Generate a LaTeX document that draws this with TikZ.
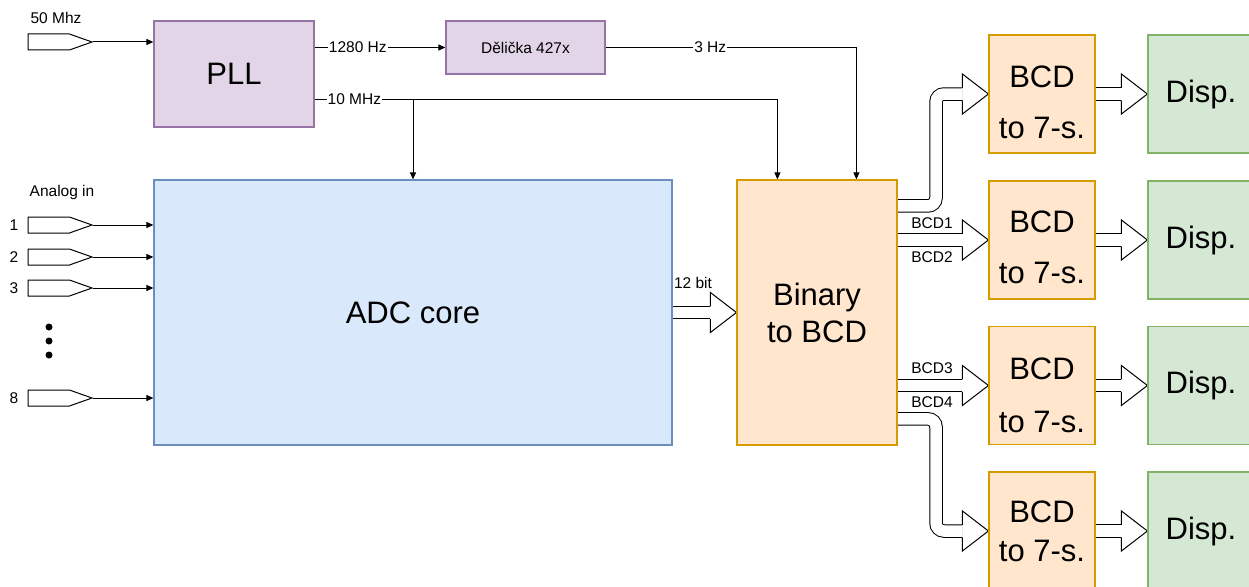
\documentclass[tikz,border=0pt]{standalone}
\usepackage{fontspec}
\setmainfont{Liberation Sans}
\usetikzlibrary{arrows.meta,shapes.symbols,calc,backgrounds}

\definecolor{pllfill}{HTML}{E1D5E7}
\definecolor{pllline}{HTML}{9673A6}
\definecolor{adcfill}{HTML}{DAE8FC}
\definecolor{adcline}{HTML}{6C8EBF}
\definecolor{orfill}{HTML}{FFE6CC}
\definecolor{orline}{HTML}{D79B00}
\definecolor{grfill}{HTML}{D5E8D4}
\definecolor{grline}{HTML}{82B366}

\tikzset{
  blk/.style={draw, line width=1.2pt, inner sep=0pt, align=center},
  purple blk/.style={blk, fill=pllfill, draw=pllline},
  blue blk/.style={blk, fill=adcfill, draw=adcline},
  orange blk/.style={blk, fill=orfill, draw=orline},
  green blk/.style={blk, fill=grfill, draw=grline},
  big/.style={font=\fontsize{31}{37}\selectfont},
  small/.style={font=\fontsize{15.5}{18}\selectfont},
  lbl/.style={small, inner sep=0pt},
  edgelbl/.style={small, fill=white, inner sep=1pt},
  sigin/.style={draw, line width=1pt, shape=signal, signal to=east,
    signal pointer angle=39, minimum width=64pt, minimum height=16pt,
    inner sep=0pt, fill=white, anchor=west},
  wire/.style={line width=1pt, -{Triangle[length=7pt,width=6pt]}},
  bus/.style={line width=1pt, double=white, double distance=11.5pt},
  bcdbox/.style={orange blk, minimum width=106pt, minimum height=118pt},
  dispbox/.style={green blk, big, minimum width=106pt, minimum height=118pt},
  bushead/.pic={
    \filldraw[fill=white, line width=1pt, line join=miter]
      (-26,-6.25) -- (-26,-20) -- (0,0) -- (-26,20) -- (-26,6.25);
  }
}

\begin{document}
\begin{tikzpicture}[x=1pt, y=-1pt]
  \useasboundingbox (0,0) rectangle (1249,586);

  % ---- blocks ----
  \node[purple blk, big, minimum width=160pt, minimum height=106pt] (pll) at (234,74) {PLL};
  \node[purple blk, small, minimum width=159pt, minimum height=53pt] (dl) at (525.5,47.5) {Dělička 427x};
  \node[blue blk, big, minimum width=518pt, minimum height=265pt] (adc) at (413,312.5) {ADC core};
  \node[orange blk, big, minimum width=160pt, minimum height=265pt] (bin) at (817,312.5) {Binary\\to BCD};

  \node[bcdbox, label={[big, align=center, font=\fontsize{31}{51}\selectfont, yshift=-8pt]center:{BCD\\to 7-s.}}] (b1) at (1042,94) {};
  \node[bcdbox, label={[big, align=center, font=\fontsize{31}{51}\selectfont, yshift=-7pt]center:{BCD\\to 7-s.}}] (b2) at (1042,240) {};
  \node[bcdbox, label={[big, align=center, font=\fontsize{31}{53}\selectfont, yshift=-10pt]center:{BCD\\to 7-s.}}] (b3) at (1042,385.5) {};
  \node[bcdbox, label={[big, align=center, font=\fontsize{31}{39}\selectfont]center:{BCD\\to 7-s.}}] (b4) at (1042,531) {};

  \node[dispbox] (d1) at (1201,94) {Disp.};
  \node[dispbox] (d2) at (1201,240) {Disp.};
  \node[dispbox] (d3) at (1201,385.5) {Disp.};
  \node[dispbox] (d4) at (1201,531) {Disp.};

  % ---- inputs ----
  \node[lbl] (l50) at (56,18) {50 Mhz};
  \node[sigin] (in0) at (27.5,42) {};
  \node[lbl] (lan) at (62,192) {Analog in};
  \node[sigin] (in1) at (27.5,225) {};
  \node[sigin] (in2) at (27.5,257) {};
  \node[sigin] (in3) at (27.5,288) {};
  \node[sigin] (in8) at (27.5,398) {};
  \node[lbl] (n1) at (14,225) {1};
  \node[lbl] (n2) at (14,257) {2};
  \node[lbl] (n3) at (14,288) {3};
  \node[lbl] (n8) at (14,398) {8};
  \fill (49,327) circle (3.5pt) (49,341) circle (3.5pt) (49,355) circle (3.5pt);

  % ---- bus labels ----
  \node[lbl] (l12) at (693,283) {12 bit};
  \node[lbl] (lb1) at (932,223) {BCD1};
  \node[lbl] (lb2) at (932,257) {BCD2};
  \node[lbl] (lb3) at (932,368) {BCD3};
  \node[lbl] (lb4) at (932,402) {BCD4};

  % ---- helper points ----
  \coordinate (t10) at ($(bin.north west)+(41,0)$);
  \coordinate (t3) at ($(bin.north west)+(120,0)$);
  \coordinate (p10) at ($(pll.north east)+(0,79)$);
  \coordinate (bx) at (936,0);
  \coordinate (s1) at ($(bin.north east)+(0,26.5)$);
  \coordinate (s4) at ($(bin.north east)+(0,239.5)$);

  \begin{scope}[on background layer]
    % clock and signal wires
    \draw[wire] (in0.east) -- (in0.east -| pll.west);
    \foreach \i in {1,2,3,8} \draw[wire] (in\i.east) -- (in\i.east -| adc.west);
    \draw[wire] (pll.east |- dl.west) -- node[edgelbl, pos=0.33] {1280 Hz} (dl.west);
    \draw[wire] (dl.east) -- node[edgelbl, pos=0.417] {3 Hz} (dl.east -| t3) -- (t3);
    \draw[wire] (p10) -- node[edgelbl, pos=0.086] {10 MHz} (p10 -| t10) -- (t10);
    \draw[wire] (p10 -| adc.north) -- (adc.north);

    % wide bus arrows
    \draw[bus] (adc.east) -- ($(bin.west)+(-26,0)$);
    \pic at (bin.west) {bushead};

    \draw[bus, rounded corners=8pt] (s1) -- (s1 -| bx) -- (b1.west -| bx) -- ($(b1.west)+(-26,0)$);
    \pic at (b1.west) {bushead};
    \draw[bus] (bin.east |- b2.west) -- ($(b2.west)+(-26,0)$);
    \pic at (b2.west) {bushead};
    \draw[bus] (bin.east |- b3.west) -- ($(b3.west)+(-26,0)$);
    \pic at (b3.west) {bushead};
    \draw[bus, rounded corners=8pt] (s4) -- (s4 -| bx) -- (b4.west -| bx) -- ($(b4.west)+(-26,0)$);
    \pic at (b4.west) {bushead};

    \foreach \k in {1,2,3,4} {
      \draw[bus] (b\k.east) -- ($(d\k.west)+(-26,0)$);
      \pic at (d\k.west) {bushead};
    }
  \end{scope}
\end{tikzpicture}
\end{document}
